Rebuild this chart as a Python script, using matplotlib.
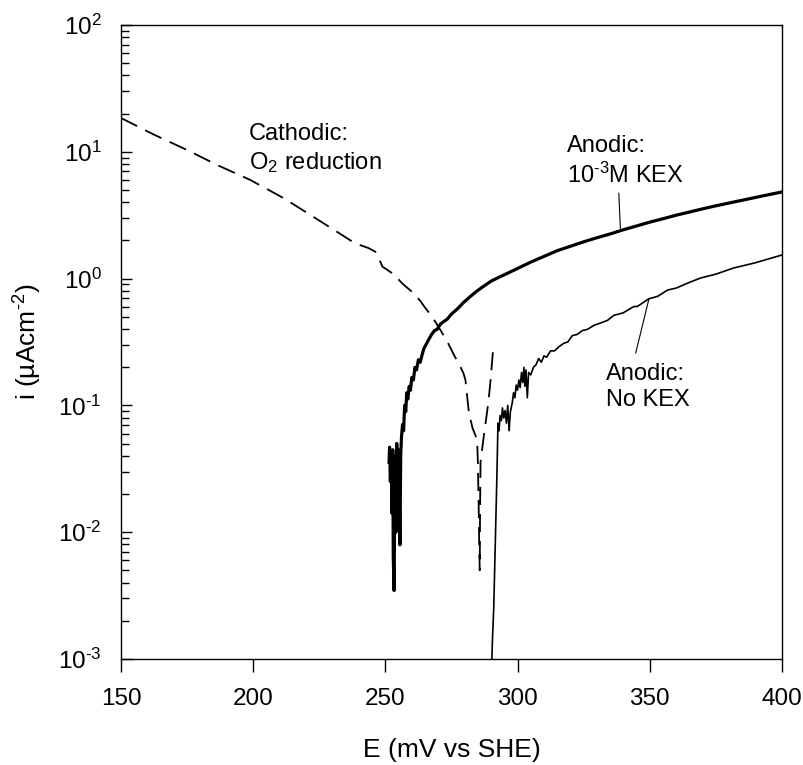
import numpy as np
import matplotlib
matplotlib.use("Agg")
import matplotlib.pyplot as plt
from matplotlib.ticker import LogLocator, FuncFormatter, NullFormatter

plt.rcParams['font.family'] = ['Liberation Sans', 'DejaVu Sans']
plt.rcParams['mathtext.fontset'] = 'custom'
plt.rcParams['mathtext.rm'] = 'Liberation Sans'
plt.rcParams['mathtext.it'] = 'Liberation Sans:italic'

# Cathodic branch: O2 reduction (E in mV vs SHE, log10 of i in uA/cm2)
cath_E = [150, 162, 175, 187, 198.9, 211.4, 220.5, 226.5, 234.8, 238.0, 241.0,
          243.6, 246.2, 247.5, 248.9, 251.0, 253.1, 256.5, 260.7, 263.0, 265.2,
          267.7, 270.8, 273.5, 275.9, 278.0, 279.5, 280.3, 280.8, 281.6, 283.0,
          284.7, 285.0, 285.3, 285.5, 285.7, 285.8, 286.0, 287.0, 287.9, 289.0,
          289.8, 290.4, 290.9]
cath_log = [1.267, 1.14, 1.014, 0.89, 0.778, 0.636, 0.517, 0.438, 0.328, 0.285,
            0.260, 0.241, 0.212, 0.16, 0.094, 0.065, 0.035, -0.04, -0.116, -0.17,
            -0.234, -0.30, -0.405, -0.50, -0.60, -0.68, -0.744, -0.80, -0.90,
            -1.06, -1.18, -1.27, -1.45, -1.80, -2.10, -2.30, -1.9, -1.45, -1.28,
            -1.14, -0.97, -0.80, -0.65, -0.524]

# Anodic branch with 1e-3 M KEX
kex_E = [251.4, 251.6, 251.9, 252.2, 252.5, 252.8, 253.0, 253.3, 253.5, 253.8,
         254.0, 254.3, 254.6, 254.9, 255.2, 255.5, 255.8, 256.1, 256.5, 256.9,
         257.3, 257.7, 258.1, 258.5, 259.0, 259.5, 260.0, 260.6, 261.2, 261.8,
         262.5, 263.2, 263.9, 264.6, 265.4, 266.4, 267.5, 268.6, 269.6, 270.8,
         272.0, 273.4, 275.0, 277.2, 279.5, 282.2, 284.5, 287.2, 290.0, 292.9,
         296, 300, 305, 310, 315, 320, 325, 330, 335, 340, 345, 350, 355, 360,
         365, 370, 375, 380, 385, 390, 395, 400]
kex_log = [-1.45, -1.33, -1.60, -1.38, -1.85, -1.35, -2.20, -2.46, -1.90, -1.40,
           -2.00, -1.30, -1.75, -1.35, -1.55, -2.10, -1.40, -1.25, -1.15, -1.20,
           -1.00, -1.05, -0.90, -0.95, -0.85, -0.88, -0.78, -0.80, -0.70, -0.72,
           -0.64, -0.66, -0.60, -0.55, -0.52, -0.48, -0.44, -0.41, -0.40, -0.36,
           -0.34, -0.32, -0.28, -0.24, -0.19, -0.14, -0.10, -0.06, -0.02, 0.01,
           0.04, 0.08, 0.13, 0.175, 0.22, 0.255, 0.29, 0.322, 0.352, 0.385,
           0.415, 0.445, 0.472, 0.50, 0.525, 0.55, 0.574, 0.596, 0.618, 0.64,
           0.662, 0.683]

# Anodic branch without KEX
nokex_E = [290.2, 290.6, 291.0, 291.4, 291.8, 292.2, 292.6, 293.0, 293.4, 293.9,
           294.3, 294.8, 295.3, 295.8, 296.3, 296.8, 297.3, 298.0, 298.5, 299.0,
           299.5, 300.0, 300.5, 301.0, 301.5, 302.0, 302.4, 302.8, 303.2, 303.7,
           304.2, 305.0, 306.0, 307.0, 308.0, 309.0, 310.0, 311.0, 312.5, 314.0,
           315.5, 317.5, 319.0, 320.7, 322.6, 324.5, 326.5, 328.8, 331.4, 334.0,
           336.4, 340.0, 344.0, 345.3, 349.6, 353.0, 356.8, 360.0, 365.0, 369.3,
           375.0, 381.8, 390.0, 400.0]
nokex_log = [-3.05, -2.8, -2.6, -2.25, -1.90, -1.55, -1.14, -1.20, -1.08, -1.12,
             -1.02, -1.10, -1.04, -1.14, -1.00, -1.20, -1.05, -0.98, -0.90, -0.94,
             -0.84, -0.88, -0.80, -0.86, -0.74, -0.82, -0.70, -0.85, -0.72, -0.94,
             -0.74, -0.76, -0.70, -0.68, -0.63, -0.66, -0.61, -0.62, -0.57, -0.57,
             -0.54, -0.51, -0.50, -0.45, -0.44, -0.41, -0.40, -0.37, -0.35, -0.33,
             -0.29, -0.27, -0.22, -0.22, -0.16, -0.14, -0.09, -0.075, -0.03, 0.005,
             0.035, 0.084, 0.125, 0.186]

fig = plt.figure(figsize=(8.04, 7.65), dpi=100)
ax = fig.add_axes([0.1505, 0.1386, 0.822, 0.8287])

ax.plot(cath_E, 10 ** np.array(cath_log), color='black', lw=1.3,
        linestyle=(0, (10, 5)))
ax.plot(kex_E, 10 ** np.array(kex_log), color='black', lw=2.3)
ax.plot(nokex_E, 10 ** np.array(nokex_log), color='black', lw=1.2)

ax.set_yscale('log')
ax.set_xlim(150, 400)
ax.set_ylim(1e-3, 1e2)
ax.set_xticks([150, 200, 250, 300, 350, 400])
ax.yaxis.set_major_locator(LogLocator(base=10, numticks=10))
ax.yaxis.set_minor_locator(LogLocator(base=10, subs=np.arange(2, 10), numticks=20))


def sci(v, pos):
    p = int(round(np.log10(v)))
    return r'$\mathdefault{10^{\text{%d}}}$' % p


ax.yaxis.set_major_formatter(FuncFormatter(sci))
ax.yaxis.set_minor_formatter(NullFormatter())

ax.tick_params(axis='x', direction='out', length=9, width=1, labelsize=17.5, pad=12,
               top=False)
ax.tick_params(axis='y', which='major', direction='in', length=8, width=1,
               labelsize=17.5, pad=14, right=False)
ax.tick_params(axis='y', which='minor', direction='in', length=6, width=1,
               right=False)
for s in ax.spines.values():
    s.set_linewidth(1)

ax.set_xlabel('E (mV vs SHE)', fontsize=19, labelpad=20)
ax.set_ylabel(r'i (µAcm$^{\text{-2}}$)', fontsize=19, labelpad=10)

ax.text(198.5, 10 ** 1.225, 'Cathodic:\nO$_2$ reduction', fontsize=17,
        ha='left', va='top', linespacing=1.25)
ax.text(318.6, 10 ** 1.13, 'Anodic:\n10$^{\\text{-3}}$M KEX', fontsize=17,
        ha='left', va='top', linespacing=1.25)
ax.text(333.3, 10 ** -0.665, 'Anodic:\nNo KEX', fontsize=17,
        ha='left', va='top', linespacing=1.25)

# leader lines from labels to curves
ax.plot([338.3, 338.9], [10 ** 0.673, 10 ** 0.397], color='black', lw=0.8)
ax.plot([349.6, 344.7], [10 ** -0.169, 10 ** -0.587], color='black', lw=0.8)

fig.savefig('out.png', dpi=100)
